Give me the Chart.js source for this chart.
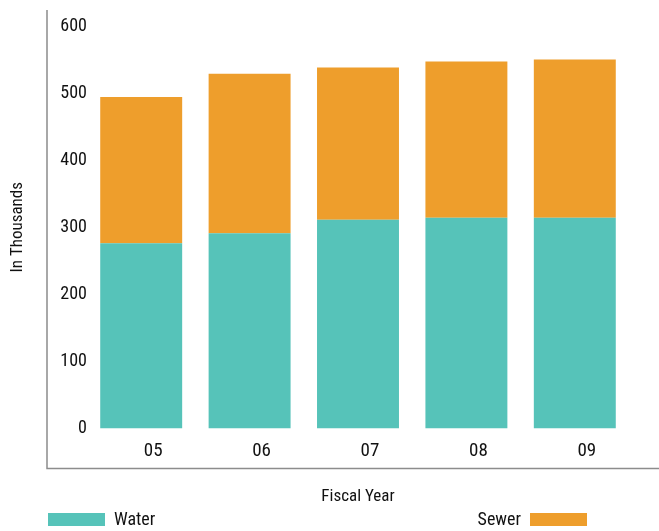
<!DOCTYPE html>
<html>
<head>
<meta charset="utf-8">
<script src="https://cdn.jsdelivr.net/npm/chart.js@4/dist/chart.umd.min.js"></script>
<style>
  html, body { margin: 0; padding: 0; background: #fff; }
  #wrap { position: relative; width: 659px; height: 531px; }
  #legend { position: absolute; left: 0; top: 0; width: 659px; height: 531px; pointer-events: none;
            font-family: 'Liberation Sans Narrow', 'Roboto Condensed', 'DejaVu Sans Condensed', sans-serif;
            font-size: 18px; color: #111; }
  .lg-item { position: absolute; top: 509px; display: flex; align-items: center; gap: 9px; line-height: 20px; }
  .lg-box { width: 57px; height: 13px; display: inline-block; }
</style>
</head>
<body>
<div id="wrap">
  <canvas id="c" width="659" height="531"></canvas>
  <div id="legend"></div>
</div>
<script>
// Fiscal years and volumes (thousands)
const years = ['05', '06', '07', '08', '09'];
const water = [276, 291, 311, 314, 314];
const sewer = [218, 238, 227, 233, 236];
const yTicks = [0, 100, 200, 300, 400, 500, 600];

const FONT = "'Liberation Sans Narrow', 'Roboto Condensed', 'DejaVu Sans Condensed', sans-serif";
const TEXT = '#111';

// Open frame: left and bottom rules set off from the plot area
const framePlugin = {
  id: 'frame',
  afterDraw(chart) {
    const { ctx, chartArea: a } = chart;
    ctx.save();
    ctx.strokeStyle = '#8c8c8c';
    ctx.lineWidth = 1.5;
    ctx.beginPath();
    ctx.moveTo(a.left - 40, a.top - 16);
    ctx.lineTo(a.left - 40, a.bottom + 40);
    ctx.lineTo(chart.width, a.bottom + 40);
    ctx.stroke();
    ctx.restore();
  }
};

const chart = new Chart(document.getElementById('c'), {
  type: 'bar',
  data: {
    labels: years,
    datasets: [
      { label: 'Water', data: water, backgroundColor: '#56c3b9', borderWidth: 0 },
      { label: 'Sewer', data: sewer, backgroundColor: '#ee9e2c', borderWidth: 0 }
    ]
  },
  options: {
    responsive: false,
    animation: false,
    layout: { padding: { left: 0, right: 30, top: 26, bottom: 24 } },
    datasets: { bar: { categoryPercentage: 1, barPercentage: 0.756 } },
    plugins: { legend: { display: false }, tooltip: { enabled: false } },
    scales: {
      x: {
        stacked: true,
        grid: { display: false, drawTicks: false },
        border: { display: false },
        ticks: { color: TEXT, font: { family: FONT, size: 19 }, padding: 11, labelOffset: 12 },
        title: { display: true, text: 'Fiscal Year', color: TEXT,
                 font: { family: FONT, size: 17 }, padding: { top: 0, bottom: 0 } },
        afterFit(s) { s.height = 78.5; }
      },
      y: {
        stacked: true,
        min: 0, max: 600,
        afterBuildTicks(s) { s.ticks = yTicks.map(v => ({ value: v })); },
        grid: { display: false, drawTicks: false },
        border: { display: false },
        ticks: { color: TEXT, font: { family: FONT, size: 18 }, padding: 0 },
        title: { display: true, text: 'In Thousands', color: TEXT,
                 font: { family: FONT, size: 17 }, padding: { top: 8, bottom: 0 } },
        afterFit(s) { s.width = 87; }
      }
    }
  },
  plugins: [framePlugin]
});

// Legend: first series box-then-label at the left, second label-then-box at the right
const legend = document.getElementById('legend');
chart.data.datasets.forEach((ds, i) => {
  const item = document.createElement('div');
  item.className = 'lg-item';
  const box = document.createElement('span');
  box.className = 'lg-box';
  box.style.background = ds.backgroundColor;
  const txt = document.createElement('span');
  txt.textContent = ds.label;
  if (i === 0) {
    item.style.left = '48px';
    item.append(box, txt);
  } else {
    item.style.right = (659 - 587) + 'px';
    item.append(txt, box);
  }
  legend.appendChild(item);
});
</script>
</body>
</html>
